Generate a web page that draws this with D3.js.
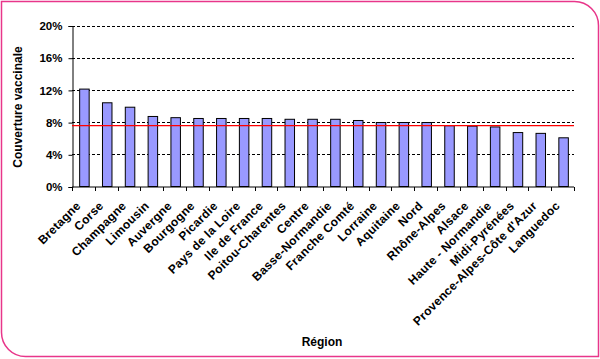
<!DOCTYPE html>
<html><head><meta charset="utf-8">
<script src="https://cdn.jsdelivr.net/npm/d3@7"></script>
<style>html,body{margin:0;padding:0;background:#fff;}svg{display:block;font-family:Arial,"Liberation Sans",sans-serif;}</style>
</head><body>
<svg id="c" width="600" height="359"></svg>
<script>
const regions = ["Bretagne","Corse","Champagne","Limousin","Auvergne","Bourgogne","Picardie","Pays de la Loire","Ile de France","Poitou-Charentes","Centre","Basse-Normandie","Franche Comté","Lorraine","Aquitaine","Nord","Rhône-Alpes","Alsace","Haute - Normandie","Midi-Pyrénées","Provence-Alpes-Côte d'Azur","Languedoc"];
const coverage = [12.1,10.4,9.85,8.7,8.55,8.45,8.45,8.45,8.45,8.35,8.35,8.35,8.2,7.95,7.95,7.95,7.55,7.5,7.4,6.7,6.6,6.05];
const average = [7.55];
const yTicks = [0,4,8,12,16,20];

const svg = d3.select("#c");
const L = 72, R = 574, T = 25.5, B = 186.5;
const x = d3.scaleBand().domain(regions).range([L, R]).padding(0);
const y = d3.scaleLinear().domain([0,20]).range([B, T]);

// border with two rounded corners
const r = 24;
svg.append("path")
  .attr("d", `M1.5,1.5 H${598.5-r} A${r},${r} 0 0 1 598.5,${1.5+r} V356.5 H${1.5+r} A${r},${r} 0 0 1 1.5,${356.5-r} Z`)
  .attr("fill","none").attr("stroke","#e8368a").attr("stroke-width",1.5);

// gridlines
svg.append("g").selectAll("line").data(yTicks.filter(d=>d>0)).join("line")
  .attr("x1",L).attr("x2",R).attr("y1",d=>Math.round(y(d))+0.5).attr("y2",d=>Math.round(y(d))+0.5)
  .attr("stroke","#000").attr("stroke-width",1).attr("stroke-dasharray","3,2");

// y axis
const yAxis = d3.axisLeft(y).tickValues(yTicks).tickFormat(d=>d+"%").tickSize(4).tickPadding(6);
const gy = svg.append("g").attr("transform",`translate(${L+0.5},0.5)`).call(yAxis);
gy.select(".domain").attr("stroke","#000");
gy.selectAll("text").attr("font-size","11.5px").attr("font-weight","bold").attr("fill","#000").attr("font-family","Arial, 'Liberation Sans', sans-serif");

// bars
const bw = 9.5;
svg.append("g").selectAll("rect").data(regions).join("rect")
  .attr("x",(d,i)=>x(d)+x.bandwidth()/2 - bw/2 + 1)
  .attr("y",(d,i)=>y(coverage[i]))
  .attr("width",bw)
  .attr("height",(d,i)=>B - y(coverage[i]))
  .attr("fill","#9999ff").attr("stroke","#000").attr("stroke-width",1);

// x axis
const gx = svg.append("g").attr("transform",`translate(0,${B+0.5})`);
gx.append("line").attr("x1",L).attr("x2",R).attr("stroke","#000");
const bounds = regions.map(d=>x(d)).concat([R]);
gx.selectAll("line.t").data(bounds).join("line").attr("class","t")
  .attr("x1",d=>Math.round(d)+0.5).attr("x2",d=>Math.round(d)+0.5).attr("y1",0).attr("y2",4).attr("stroke","#000");

// x labels
svg.append("g").selectAll("text").data(regions).join("text")
  .attr("transform",d=>`translate(${x(d)+x.bandwidth()/2-2},${B+20}) rotate(-45)`)
  .attr("text-anchor","end")
  .attr("font-size","12px").attr("font-weight","bold").attr("fill","#000")
  .attr("letter-spacing","0.3px")
  .text(d=>d);

// average line
svg.append("g").selectAll("line").data(average).join("line")
  .attr("x1",L).attr("x2",R).attr("y1",d=>y(d)).attr("y2",d=>y(d))
  .attr("stroke","#ff0000").attr("stroke-width",1.2);

// titles
svg.append("text").attr("transform","translate(22,107) rotate(-90)").attr("text-anchor","middle")
  .attr("font-size","12px").attr("font-weight","bold").text("Couverture vaccinale");
svg.append("text").attr("x",322).attr("y",346).attr("text-anchor","middle")
  .attr("font-size","12px").attr("font-weight","bold").text("Région");
</script>
</body></html>
